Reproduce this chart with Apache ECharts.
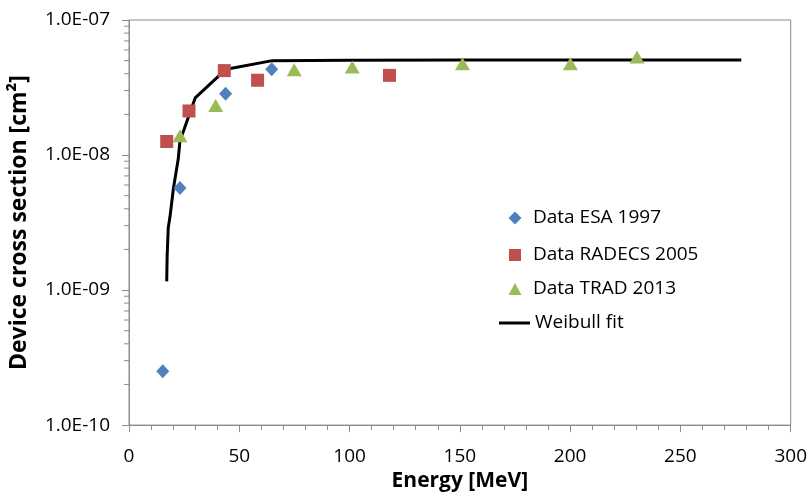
<!DOCTYPE html>
<html>
<head>
<meta charset="utf-8">
<script src="https://cdn.jsdelivr.net/npm/echarts@6/dist/echarts.min.js"></script>
<style>
  html, body { margin: 0; padding: 0; background: #fff; }
  #chart { width: 810px; height: 497px; }
</style>
</head>
<body>
<div id="chart"></div>
<script>
// 数据
var esaE = [15.3, 23.1, 43.8, 64.7];
var esaXS = [2.5e-10, 5.7e-9, 2.84e-8, 4.31e-8];
var radE = [17.1, 27.2, 43.2, 58.3, 118.1];
var radXS = [1.26e-8, 2.12e-8, 4.22e-8, 3.58e-8, 3.89e-8];
var tradE = [23.1, 39.3, 74.9, 101.2, 151.2, 200.1, 230.3];
var tradXS = [1.39e-8, 2.33e-8, 4.29e-8, 4.49e-8, 4.75e-8, 4.75e-8, 5.32e-8];
var fitE = [17.1, 17.3, 17.8, 18.6, 20.1, 22.3, 23.1, 30, 40.5, 43.5, 65, 100, 150, 277.6];
var fitXS = [1.16e-9, 1.8e-9, 2.9e-9, 3.5e-9, 5.6e-9, 9.3e-9, 1.27e-8, 2.65e-8, 3.83e-8, 4.3e-8, 5.0e-8, 5.04e-8, 5.05e-8, 5.05e-8];
var seriesNames = ['Data ESA 1997', 'Data RADECS 2005', 'Data TRAD 2013', 'Weibull fit'];
// 对数轴的小刻度 (2..9 × 10^n)
var minorDecades = [-10, -9, -8];
var minorSteps = [2, 3, 4, 5, 6, 7, 8, 9];

function pairs(xs, ys) {
    return xs.map(function (x, i) { return [x, ys[i]]; });
}
var minorVals = [];
minorDecades.forEach(function (d) {
    minorSteps.forEach(function (k) { minorVals.push([0, k * Math.pow(10, d)]); });
});

var axisGray = '#8c8c8c';
var font = '"Open Sans", sans-serif';

(function () {
    var myChart = echarts.init(document.getElementById('chart'));
    var option = {
        animation: false,
        backgroundColor: '#ffffff',
        grid: {
            left: 129,
            right: 19,
            top: 20,
            bottom: 69,
            show: true,
            borderColor: axisGray,
            borderWidth: 1
        },
        legend: [
            legendItem(seriesNames[0], 218, 'diamond', 13, 13),
            legendItem(seriesNames[1], 255, 'rect', 12, 12),
            legendItem(seriesNames[2], 289, 'triangle', 13, 12),
            {
                data: [{ name: seriesNames[3], icon: 'rect' }],
                left: 499,
                top: 313,
                padding: 0,
                itemWidth: 31,
                itemHeight: 3,
                itemStyle: { color: '#000' },
                textStyle: { color: '#000', fontFamily: font, fontSize: 19, lineHeight: 20 }
            }
        ],
        xAxis: {
            type: 'value',
            min: 0,
            max: 300,
            interval: 50,
            name: 'Energy [MeV]',
            nameLocation: 'middle',
            nameGap: 42,
            nameTextStyle: { color: '#000', fontFamily: font, fontSize: 21, fontWeight: 'bold' },
            axisLine: { show: true, lineStyle: { color: axisGray, width: 1 } },
            axisTick: { show: true, inside: false, length: 7, lineStyle: { color: axisGray } },
            minorTick: { show: true, splitNumber: 5, length: 5, lineStyle: { color: axisGray } },
            splitLine: { show: false },
            axisLabel: { color: '#000', fontFamily: font, fontSize: 19, margin: 22 }
        },
        yAxis: {
            type: 'log',
            logBase: 10,
            min: 1e-10,
            max: 1e-7,
            name: 'Device cross section [cm²]',
            nameLocation: 'middle',
            nameGap: 98,
            nameRotate: 90,
            nameTextStyle: { color: '#000', fontFamily: font, fontSize: 23, fontWeight: 'bold' },
            axisLine: { show: true, lineStyle: { color: axisGray, width: 1 } },
            axisTick: { show: true, inside: false, length: 7, lineStyle: { color: axisGray } },
            splitLine: { show: false },
            axisLabel: {
                color: '#000',
                fontFamily: font,
                fontSize: 19,
                margin: 19,
                formatter: function (v) {
                    var e = Math.round(Math.log10(v));
                    var a = Math.abs(e);
                    return '1.0E' + (e < 0 ? '-' : '+') + (a < 10 ? '0' + a : a);
                }
            }
        },
        series: [
            {
                name: seriesNames[0],
                type: 'scatter',
                symbol: 'diamond',
                symbolSize: [13, 14],
                itemStyle: { color: '#4f81bd', opacity: 1 },
                data: pairs(esaE, esaXS),
                z: 3
            },
            {
                name: seriesNames[1],
                type: 'scatter',
                symbol: 'rect',
                symbolSize: 13,
                itemStyle: { color: '#c0504d', opacity: 1 },
                data: pairs(radE, radXS),
                z: 3
            },
            {
                name: seriesNames[2],
                type: 'scatter',
                symbol: 'triangle',
                symbolSize: [15, 13],
                itemStyle: { color: '#9bbb59', opacity: 1 },
                data: pairs(tradE, tradXS),
                z: 3
            },
            {
                name: seriesNames[3],
                type: 'line',
                symbol: 'none',
                smooth: false,
                lineStyle: { color: '#000', width: 3 },
                itemStyle: { color: '#000' },
                data: pairs(fitE, fitXS),
                z: 2
            },
            {
                // y轴小刻度
                type: 'custom',
                silent: true,
                clip: false,
                data: minorVals,
                renderItem: function (params, api) {
                    var p = api.coord([api.value(0), api.value(1)]);
                    return {
                        type: 'line',
                        shape: { x1: p[0] - 5, y1: p[1], x2: p[0], y2: p[1] },
                        style: { stroke: axisGray, lineWidth: 1 }
                    };
                }
            }
        ]
    };

    // 单个图例项，图标居中在 x=515，文字从 x≈533 开始
    function legendItem(name, cy, icon, w, h) {
        return {
            data: [{ name: name, icon: icon }],
            left: 515 - w / 2,
            top: cy - 10,
            padding: 0,
            itemWidth: w,
            itemHeight: h,
            textStyle: {
                color: '#000', fontFamily: font, fontSize: 19, lineHeight: 20,
                padding: [0, 0, 0, 533 - (515 + w / 2) - 5]
            }
        };
    }

    myChart.setOption(option);
    window.addEventListener('resize', function () {
        myChart.resize();
    });
})();
</script>
</body>
</html>
